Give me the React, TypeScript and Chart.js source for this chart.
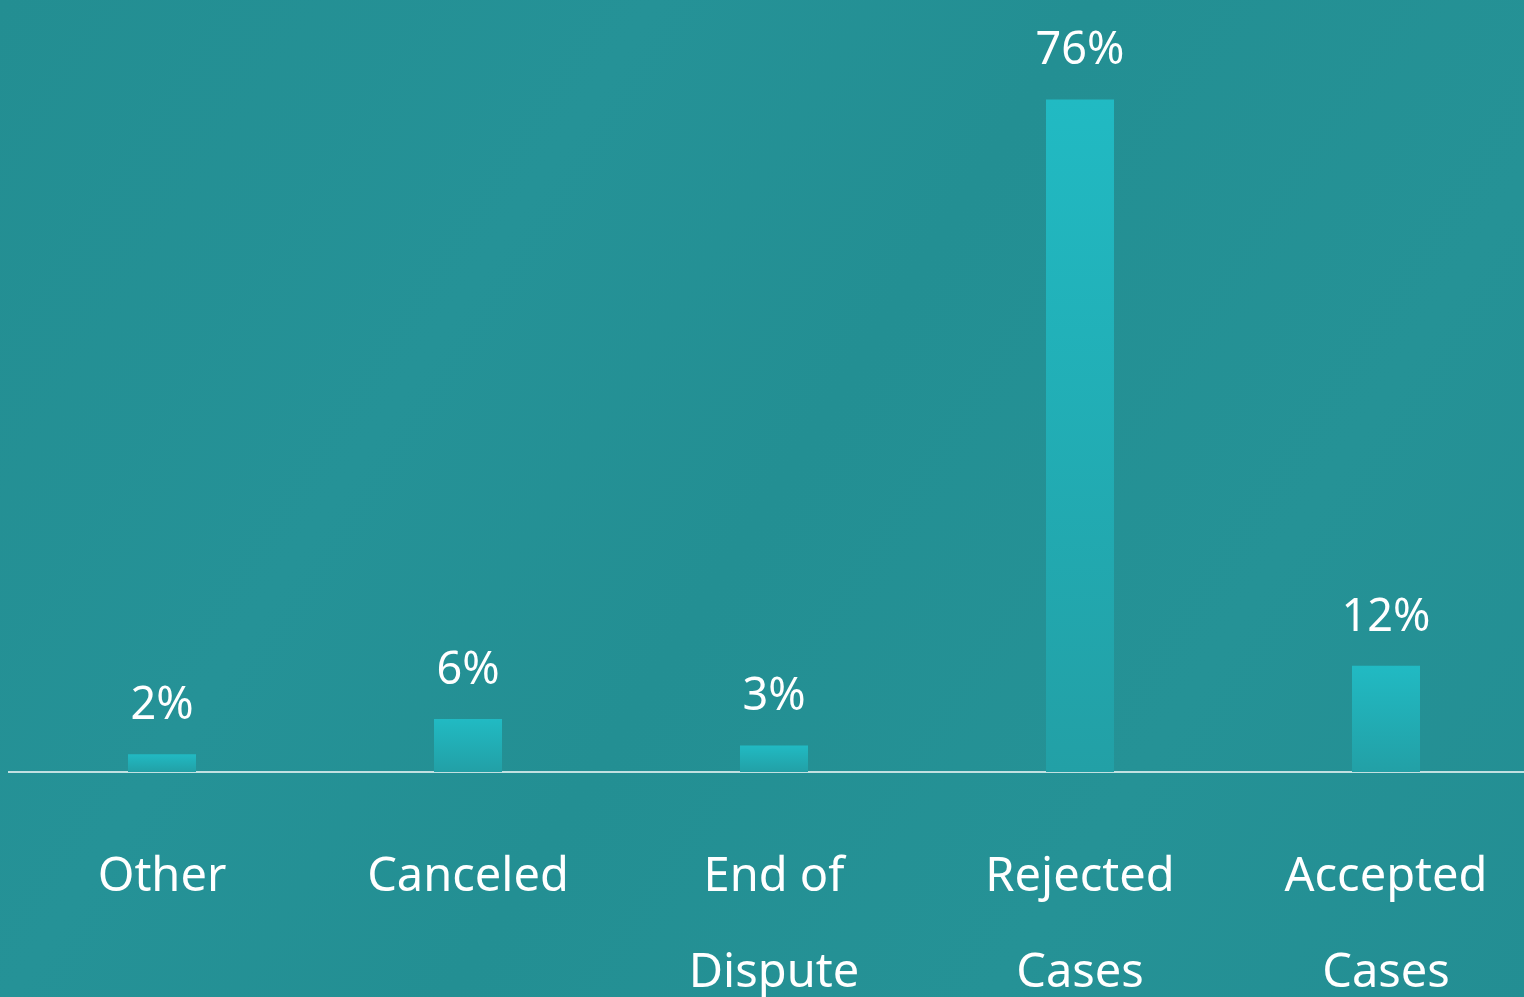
import React, { useEffect, useRef } from "react";
import { Chart, registerables } from "chart.js";

Chart.register(...registerables);

const categories: (string | string[])[] = [
  "Other",
  "Canceled",
  ["End of", "Dispute"],
  ["Rejected", "Cases"],
  ["Accepted", "Cases"],
];
const shares: number[] = [2, 6, 3, 76, 12];
const valueLabels: string[] = ["2%", "6%", "3%", "76%", "12%"];

const FONT = "'Noto Sans', 'Open Sans', sans-serif";

const backgroundPlugin = {
  id: "pageBackground",
  beforeDraw(chart: any) {
    const { ctx, width, height } = chart;
    ctx.save();
    const g = ctx.createLinearGradient(0, 0, width, height);
    g.addColorStop(0, "#238e92");
    g.addColorStop(0.3, "#259297");
    g.addColorStop(0.5, "#238f93");
    g.addColorStop(0.75, "#259296");
    g.addColorStop(1, "#238e93");
    ctx.fillStyle = g;
    ctx.fillRect(0, 0, width, height);
    ctx.restore();
  },
};

const valueLabelPlugin = {
  id: "valueLabels",
  afterDatasetsDraw(chart: any) {
    const { ctx } = chart;
    const meta = chart.getDatasetMeta(0);
    ctx.save();
    ctx.fillStyle = "#ffffff";
    ctx.font = `400 45px ${FONT}`;
    ctx.textAlign = "center";
    ctx.textBaseline = "alphabetic";
    meta.data.forEach((bar: any, i: number) => {
      ctx.fillText(valueLabels[i], bar.x, bar.y - 35);
    });
    ctx.restore();
  },
};

export default function App() {
  const ref = useRef<HTMLCanvasElement>(null);

  useEffect(() => {
    document.body.style.margin = "0";
    document.body.style.overflow = "hidden";
    document.body.style.background = "#238e92";
    if (!ref.current) return;
    const chart = new Chart(ref.current, {
      type: "bar",
      data: {
        labels: categories,
        datasets: [
          {
            data: shares,
            backgroundColor: (c: any) => {
              const ch = c.chart;
              if (!ch.chartArea || c.raw === undefined) return "#22adb4";
              const y = ch.scales.y.getPixelForValue(c.raw);
              const b = ch.scales.y.getPixelForValue(0);
              const g = ch.ctx.createLinearGradient(0, y, 0, b);
              g.addColorStop(0, "#21bac3");
              g.addColorStop(1, "#22a0a6");
              return g;
            },
            borderWidth: 0,
            categoryPercentage: 1,
            barPercentage: 68 / 306,
          },
        ],
      },
      options: {
        responsive: false,
        animation: false,
        layout: { padding: { left: 9, right: 1, top: 64, bottom: 0 } },
        plugins: {
          legend: { display: false },
          tooltip: { enabled: false },
        },
        scales: {
          x: {
            grid: { display: false, drawTicks: false },
            border: { display: true, color: "rgba(255,255,255,0.72)", width: 2 },
            ticks: {
              color: "#ffffff",
              padding: 58,
              maxRotation: 0,
              autoSkip: false,
              font: { family: FONT, size: 47, weight: "400", lineHeight: 2.04 },
            },
            afterFit: (scale: any) => {
              scale.height = 225;
              scale.paddingLeft = 0;
              scale.paddingRight = 0;
            },
          },
          y: {
            display: false,
            min: 0,
            max: 80,
          },
        },
      },
      plugins: [backgroundPlugin, valueLabelPlugin],
    });
    return () => chart.destroy();
  }, []);

  return (
    <div style={{ position: "fixed", left: 0, top: 0, width: 1524, height: 997, overflow: "hidden" }}>
      <canvas ref={ref} width={1540} height={997} style={{ display: "block" }} />
    </div>
  );
}
